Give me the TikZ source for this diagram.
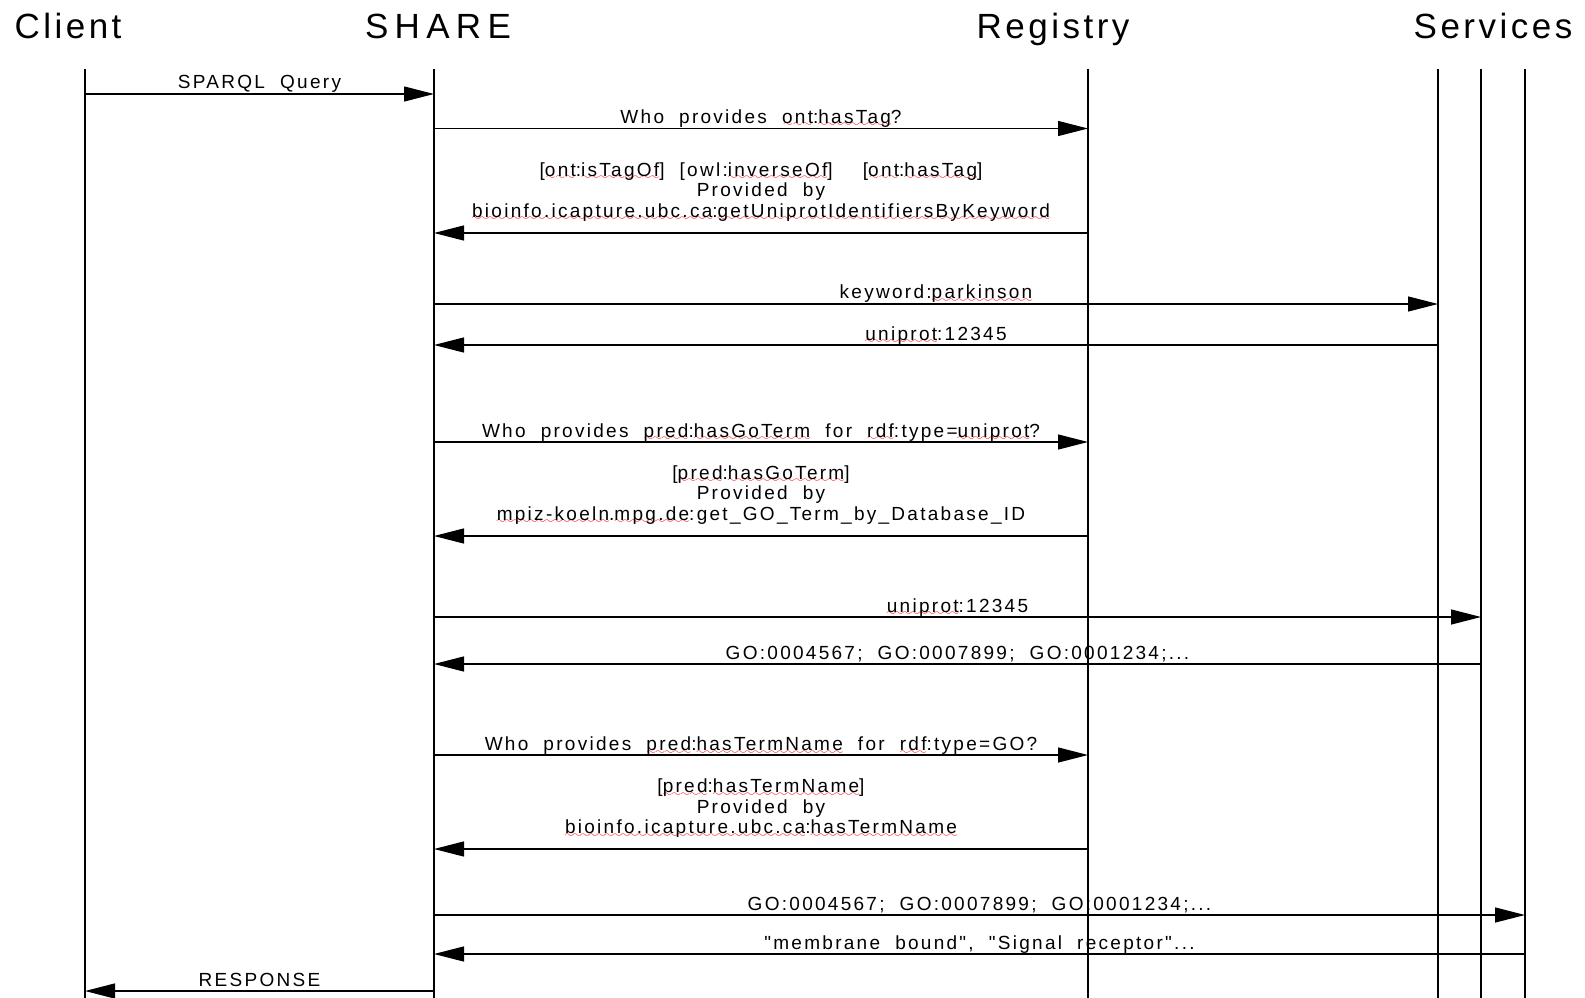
\documentclass[tikz,border=0pt]{standalone}
\usepackage{fontspec}
\setmainfont{Liberation Sans}
\newfontfamily\lblfont{Liberation Sans}[LetterSpace=12,WordSpace=2.0]
\newfontfamily\ttlfont{Liberation Sans}[LetterSpace=10]
\usetikzlibrary{arrows.meta}
\font\wavyfont=lasy6 at 9.5pt
\newcommand\sq[1]{\setbox0\hbox{#1}\rlap{\textcolor{red}{\lower3.5pt\hbox to \wd0{\xleaders\hbox{\wavyfont\char58}\hfil}}}\box0{}}
\begin{document}
\begin{tikzpicture}[x=1pt,y=-1pt,
  life/.style={line width=1.2pt},
  msg/.style={line width=1.3pt,-{Triangle[length=30pt,width=15pt]}},
  lbl/.style={font=\lblfont\fontsize{19}{21}\selectfont, anchor=base, inner sep=0pt},
  ttl/.style={font=\ttlfont\fontsize{35}{40}\selectfont, anchor=base, inner sep=0pt}]
\useasboundingbox[fill=white] (0,0) rectangle (1585,998);

% titles
\node[ttl] (tClient) at (68,38.5) {Client};
\node[ttl] (tShare) at (438,38.5) {\addfontfeature{LetterSpace=18}SHARE};
\node[ttl] (tReg) at (1053,38.5) {Registry};
\node[ttl] (tSrv) at (1493,38.5) {Services};

% lifelines
\coordinate (cT) at (85,69);   \coordinate (cB) at (85,998);
\coordinate (sT) at (434,69);  \coordinate (sB) at (434,998);
\coordinate (rT) at (1088,69); \coordinate (rB) at (1088,998);
\coordinate (aT) at (1438,69); \coordinate (aB) at (1438,998);
\coordinate (bT) at (1481,69); \coordinate (bB) at (1481,998);
\coordinate (dT) at (1525,69); \coordinate (dB) at (1525,998);
\foreach \t/\b in {cT/cB,sT/sB,rT/rB,aT/aB,bT/bB,dT/dB}
  \draw[life] (\t) -- (\b);

% message endpoints
\coordinate (m1a) at (85,94);    \coordinate (m1b) at (434,94);
\coordinate (m2a) at (434,128.5);  \coordinate (m2b) at (1088,128.5);
\coordinate (m3a) at (1088,233); \coordinate (m3b) at (434,233);
\coordinate (m4a) at (434,304);  \coordinate (m4b) at (1438,304);
\coordinate (m5a) at (1438,345); \coordinate (m5b) at (434,345);
\coordinate (m6a) at (434,442);  \coordinate (m6b) at (1088,442);
\coordinate (m7a) at (1088,536); \coordinate (m7b) at (434,536);
\coordinate (m8a) at (434,617);  \coordinate (m8b) at (1481,617);
\coordinate (m9a) at (1481,664); \coordinate (m9b) at (434,664);
\coordinate (m10a) at (434,755); \coordinate (m10b) at (1088,755);
\coordinate (m11a) at (1088,849);\coordinate (m11b) at (434,849);
\coordinate (m12a) at (434,915); \coordinate (m12b) at (1525,915);
\coordinate (m13a) at (1525,954);\coordinate (m13b) at (434,954);
\coordinate (m14a) at (434,991); \coordinate (m14b) at (85,991);

\foreach \i in {1,...,14}
  \draw[msg] (m\i a) -- (m\i b);

% labels
\node[lbl] (l1) at (259.5,88.5) {SPARQL Query};
\node[lbl] (l2) at (761,123) {Who provides \sq{ont}:\sq{hasTag}?};
\node[lbl] (l3a) at (761,176) {[\sq{ont}:\sq{isTagOf}] [owl:\sq{inverseOf}]\ \ [\sq{ont}:\sq{hasTag}]};
\node[lbl] (l3b) at (761,196.5) {Provided by};
\node[lbl] (l3c) at (761,217) {\sq{bioinfo.icapture.ubc.ca}:\sq{getUniprotIdentifiersByKeyword}};
\node[lbl] (l4) at (936,298.5) {keyword:\sq{parkinson}};
\node[lbl] (l5) at (936,340) {\sq{uniprot}:12345};
\node[lbl] (l6) at (761,437) {Who provides \sq{pred}:\sq{hasGoTerm} for \sq{rdf}:type=\sq{uniprot}?};
\node[lbl] (l7a) at (761,479) {[\sq{pred}:\sq{hasGoTerm}]};
\node[lbl] (l7b) at (761,499.5) {Provided by};
\node[lbl] (l7c) at (761,520) {\sq{mpiz-koeln}.\sq{mpg.de}:get\_GO\_Term\_by\_Database\_ID};
\node[lbl] (l8) at (957.5,612) {\sq{uniprot}:12345};
\node[lbl] (l9) at (957.5,659) {GO:0004567; GO:0007899; GO:0001234;...};
\node[lbl] (l10) at (761,750.5) {Who provides \sq{pred}:\sq{hasTermName} for \sq{rdf}:type=GO?};
\node[lbl] (l11a) at (761,792.5) {[\sq{pred}:\sq{hasTermName}]};
\node[lbl] (l11b) at (761,813) {Provided by};
\node[lbl] (l11c) at (761,833.5) {\sq{bioinfo.icapture.ubc.ca}:\sq{hasTermName}};
\node[lbl] (l12) at (979.5,910) {GO:0004567; GO:0007899; GO:0001234;...};
\node[lbl] (l13) at (979.5,949.5) {"membrane bound", "Signal receptor"...};
\node[lbl] (l14) at (259.5,986) {RESPONSE};
\end{tikzpicture}
\end{document}
